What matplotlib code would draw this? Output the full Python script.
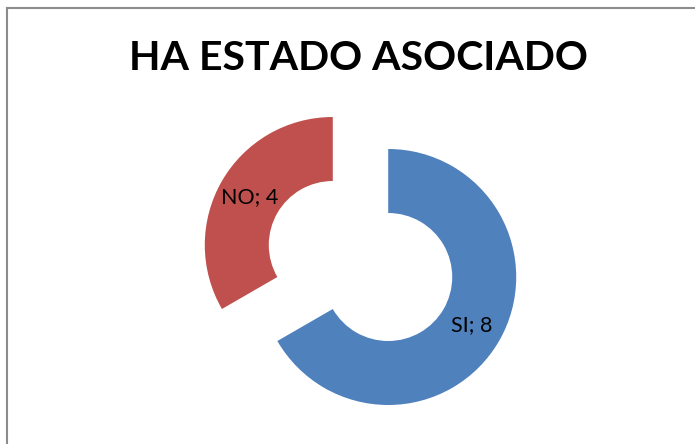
import matplotlib
matplotlib.use("Agg")
import matplotlib.pyplot as plt
from matplotlib.lines import Line2D

# Data
categories = ["SI", "NO"]
values = [8, 4]
colors = ["#4F81BD", "#C0504D"]
title = "HA ESTADO ASOCIADO"

W, H = 695, 444
fig = plt.figure(figsize=(W / 100, H / 100), dpi=100)
ax = fig.add_axes([0, 0, 1, 1])

# frame (gray border)
fig.add_artist(Line2D([6.5 / W, 1.0], [1 - 8.5 / H, 1 - 8.5 / H], color="#8c8c8c", lw=1.5))
fig.add_artist(Line2D([6.5 / W, 6.5 / W], [0, 1 - 8.5 / H], color="#8c8c8c", lw=1.5))

labels = [f"{c}; {v}" for c, v in zip(categories, values)]
radius = 128
wedges, texts = ax.pie(
    values,
    labels=labels,
    colors=colors,
    startangle=90,
    counterclock=False,
    center=(360.5, H - 261),
    radius=radius,
    explode=[32, 32],
    labeldistance=0.75,
    wedgeprops=dict(width=64, edgecolor="none"),
    textprops=dict(fontsize=15.5, family="Lato", color="black"),
    frame=True,
)
for t in texts:
    t.set_horizontalalignment("center")
    t.set_verticalalignment("center")
ax.set_xlim(0, W)
ax.set_ylim(0, H)
ax.set_aspect("equal")
ax.axis("off")

fig.text(358.5 / W, 1 - 59 / H, title, fontsize=29.5, fontweight="bold", family="Lato",
         ha="center", va="center", color="black")

fig.savefig("out.png", dpi=100, facecolor="white")
